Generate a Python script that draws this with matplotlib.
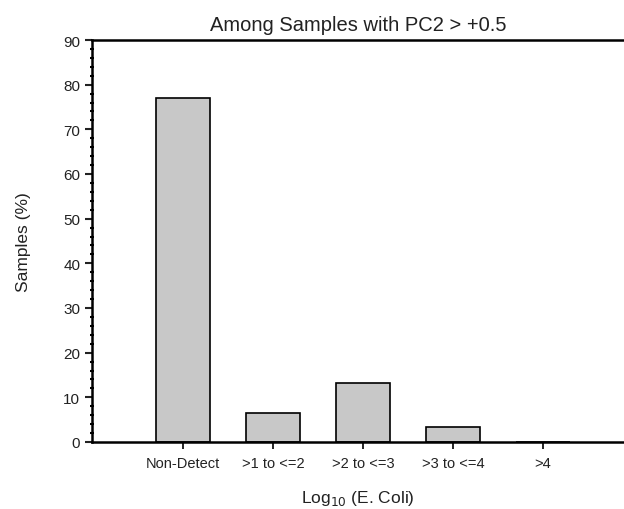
import matplotlib
matplotlib.use('Agg')
import matplotlib.pyplot as plt
from matplotlib.ticker import MultipleLocator

plt.rcParams['font.family'] = ['Liberation Sans', 'DejaVu Sans']

# data
categories = ['Non-Detect', '>1 to <=2', '>2 to <=3', '>3 to <=4', '>4']
samples_pct = [77.0, 6.5, 13.2, 3.4, 0.0]

fig = plt.figure(figsize=(6.24, 5.10), dpi=100)
ax = fig.add_axes([0.1474, 0.1314, 0.8526, 0.7882])

x = range(len(categories))
ax.bar(x, samples_pct, width=0.6, color='#c8c8c8', edgecolor='black', linewidth=1.2)

ax.set_xlim(-1.01, 4.9)
ax.set_ylim(0, 90)
ax.set_xticks(list(x))
ax.set_xticklabels(categories, fontsize=10.5, color='#222222')
ax.yaxis.set_major_locator(MultipleLocator(10))
ax.yaxis.set_minor_locator(MultipleLocator(2))
ax.tick_params(axis='y', labelsize=11, colors='#222222', width=1.5, length=5, direction='out')
ax.tick_params(axis='y', which='minor', width=1.5, length=3, direction='inout')
ax.tick_params(axis='x', width=1.2, length=5, direction='out', pad=5)

# spines: left, bottom, top (no right)
ax.spines['right'].set_visible(False)
for s in ['left', 'bottom', 'top']:
    ax.spines[s].set_linewidth(1.8)

ax.set_title('Among Samples with PC2 > +0.5', fontsize=14.5, color='#222222', pad=7)
ax.set_ylabel('Samples (%)', fontsize=12.5, color='#222222', labelpad=23)
ax.set_xlabel(r'Log$_{10}$ (E. Coli)', fontsize=12.5, color='#222222', labelpad=13)

fig.savefig('out.png', dpi=100)
